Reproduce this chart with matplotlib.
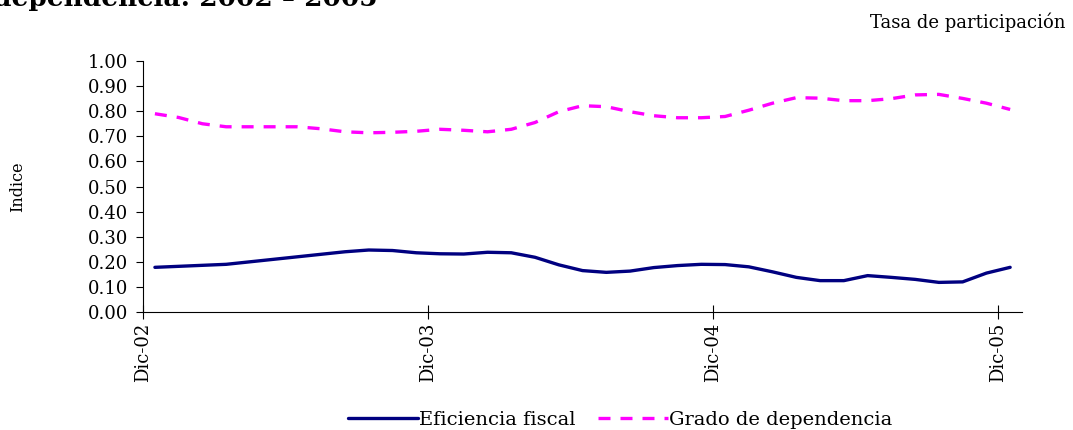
import numpy as np
import matplotlib.pyplot as plt

# meses Dic-02 .. Dic-05 (37 meses)
etiquetas_x = ['Dic-02', 'Dic-03', 'Dic-04', 'Dic-05']
posiciones_etiquetas = [0, 12, 24, 36]

eficiencia_fiscal = [0.178, 0.182, 0.186, 0.190, 0.200, 0.210, 0.220, 0.230, 0.240, 0.247,
                     0.245, 0.236, 0.232, 0.231, 0.238, 0.236, 0.218, 0.188, 0.165, 0.158,
                     0.163, 0.177, 0.185, 0.190, 0.189, 0.180, 0.160, 0.138, 0.125, 0.125,
                     0.145, 0.138, 0.130, 0.118, 0.120, 0.155, 0.178]

grado_dependencia = [0.790, 0.775, 0.750, 0.738, 0.738, 0.738, 0.738, 0.730, 0.718, 0.714,
                     0.716, 0.720, 0.728, 0.724, 0.718, 0.728, 0.755, 0.798, 0.822, 0.818,
                     0.798, 0.782, 0.774, 0.774, 0.779, 0.804, 0.832, 0.854, 0.852, 0.842,
                     0.842, 0.850, 0.865, 0.867, 0.851, 0.832, 0.807]

fuente = 'DejaVu Serif'
plt.rcParams['font.family'] = fuente

fig = plt.figure(figsize=(10.73, 4.3), dpi=100)
ax = fig.add_axes([0.1333, 0.2744, 0.8192, 0.5837])

x = np.arange(len(eficiencia_fiscal)) + 0.5
ax.plot(x, eficiencia_fiscal, color='#000080', lw=2.4, label='Eficiencia fiscal',
        solid_capstyle='round')
ax.plot(x, grado_dependencia, color='#FF00FF', lw=2.4, dashes=(3.6, 3.0),
        label='Grado de dependencia')

ax.set_xlim(0, len(eficiencia_fiscal))
ax.set_ylim(0, 1.0)
ax.set_yticks(np.arange(0, 1.01, 0.1))
ax.set_yticklabels([f'{v:.2f}' for v in np.arange(0, 1.01, 0.1)], fontsize=13)
ax.set_xticks(posiciones_etiquetas)
ax.set_xticklabels(etiquetas_x, rotation=90, fontsize=13)

ax.spines['top'].set_visible(False)
ax.spines['right'].set_visible(False)
ax.spines['left'].set_linewidth(0.8)
ax.spines['bottom'].set_linewidth(0.8)
ax.tick_params(axis='y', direction='out', length=5, width=0.8, pad=6)
ax.tick_params(axis='x', direction='inout', length=10, width=0.8, pad=3)

ax.set_ylabel('Indice', fontsize=11.5)
ax.yaxis.set_label_coords(-0.133, 0.5)

# titulo cortado en la parte superior
fig.text(0.352, 0.986, 'dependencia: 2002 \u2013 2005', fontsize=19, fontweight='bold',
         ha='right', va='baseline')
fig.text(0.993, 0.948, 'Tasa de participación', fontsize=13, ha='right', va='center')

fig.legend(loc='center', bbox_to_anchor=(0.578, 0.023), ncol=2, frameon=False,
           fontsize=14, handlelength=3.6, handletextpad=0.05, columnspacing=1.2)

fig.savefig('out.png', dpi=100)
